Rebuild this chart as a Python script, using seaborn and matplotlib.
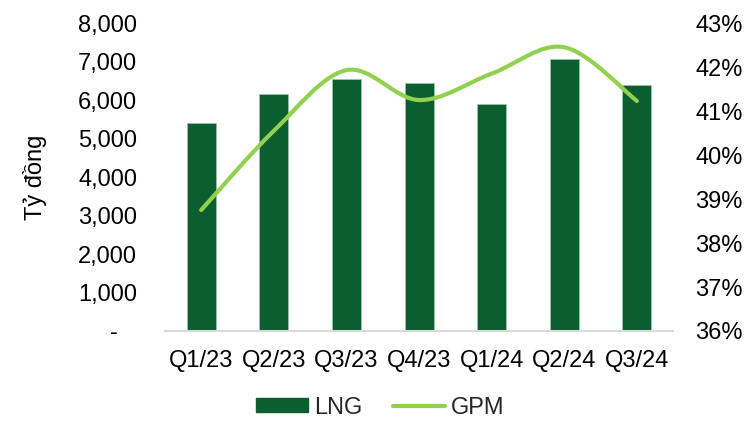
import numpy as np
import pandas as pd
import matplotlib.pyplot as plt
import seaborn as sns
from matplotlib.path import Path
from matplotlib.patches import PathPatch
from matplotlib.lines import Line2D
from matplotlib.patches import Patch
from matplotlib.ticker import FuncFormatter

quarters = ["Q1/23", "Q2/23", "Q3/23", "Q4/23", "Q1/24", "Q2/24", "Q3/24"]
lng = [5400, 6150, 6550, 6450, 5900, 7070, 6400]
gpm = [38.75, 40.55, 41.93, 41.25, 41.85, 42.45, 41.23]

BAR_C = "#0b5e2f"
LINE_C = "#92d050"
FS = 17

sns.set_theme(style="white")
plt.rcParams["font.family"] = ["Liberation Sans", "DejaVu Sans"]

df = pd.DataFrame({"Quarter": quarters, "LNG": lng, "GPM": gpm})

fig = plt.figure(figsize=(7.53, 4.23), dpi=100)
ax = fig.add_axes([0.219, 0.2175, 0.675, 0.728])

sns.barplot(data=df, x="Quarter", y="LNG", color=BAR_C, width=0.4,
            saturation=1, ax=ax, edgecolor="#9cc3a8", linewidth=0.6)
ax.set_ylim(0, 8000)
ax.set_yticks(np.arange(0, 8001, 1000))
ax.yaxis.set_major_formatter(FuncFormatter(lambda v, p: "-   " if v == 0 else f"{v:,.0f}"))
ax.set_xlabel("")
ax.set_ylabel("Tỷ đồng", fontsize=FS, labelpad=22, color="#000000")
ax.tick_params(axis="both", labelsize=FS, length=0, colors="#000000")
ax.tick_params(axis="y", pad=20)
ax.tick_params(axis="x", pad=14)
for s in ["top", "right", "left"]:
    ax.spines[s].set_visible(False)
ax.spines["bottom"].set_color("#d9d9d9")
ax.spines["bottom"].set_linewidth(1.5)
ax.set_xlim(-0.5, 6.5)

ax2 = ax.twinx()
ax2.set_ylim(36, 43)
ax2.set_yticks(np.arange(36, 43.1, 1))
ax2.yaxis.set_major_formatter(FuncFormatter(lambda v, p: f"{v:.0f}%"))
ax2.tick_params(axis="y", labelsize=FS, length=0, pad=16, colors="#000000")
for s in ax2.spines.values():
    s.set_visible(False)

# smoothed line (Excel-style bezier through the data points)
x = np.arange(len(gpm), dtype=float)
y = np.array(gpm)
t = 1 / 6
verts = [(x[0], y[0])]
codes = [Path.MOVETO]
for i in range(len(x) - 1):
    p0 = (x[max(i - 1, 0)], y[max(i - 1, 0)])
    p1 = (x[i], y[i])
    p2 = (x[i + 1], y[i + 1])
    p3 = (x[min(i + 2, len(x) - 1)], y[min(i + 2, len(x) - 1)])
    c1 = (p1[0] + (p2[0] - p0[0]) * t, p1[1] + (p2[1] - p0[1]) * t)
    c2 = (p2[0] - (p3[0] - p1[0]) * t, p2[1] - (p3[1] - p1[1]) * t)
    verts += [c1, c2, p2]
    codes += [Path.CURVE4] * 3
ax2.add_patch(PathPatch(Path(verts, codes), facecolor="none", edgecolor=LINE_C,
                        lw=3, capstyle="round", joinstyle="round"))

handles = [Patch(color=BAR_C, label="LNG"),
           Line2D([0], [0], color=LINE_C, lw=3, solid_capstyle="round", label="GPM")]
fig.legend(handles=handles, loc="lower center", bbox_to_anchor=(0.505, -0.04), ncol=2,
           frameon=False, fontsize=FS, handlelength=2.2, handleheight=0.55,
           columnspacing=1.3, handletextpad=0.25)

fig.savefig("out.png", dpi=100)
